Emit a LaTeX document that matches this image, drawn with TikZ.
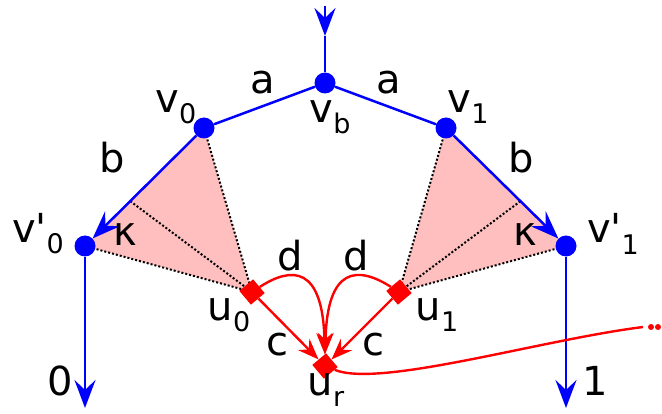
\documentclass[tikz,border=0pt]{standalone}
\usepackage{fontspec}
\setmainfont{DejaVu Sans}[Ligatures=TeXOff]
\usetikzlibrary{arrows.meta,backgrounds,calc}
\definecolor{GrafAzul}{HTML}{0000FF}
\definecolor{GrafRojo}{HTML}{FF0000}
\definecolor{GrafRosa}{HTML}{FFBFBF}
\newcommand\lo[1]{\raisebox{-0.28em}{\fontsize{27}{30}\selectfont#1}}
\newcommand\prima{\char"27}

\begin{document}
\begin{tikzpicture}[x=1pt,y=-1pt,font=\fontsize{40}{44}\selectfont,
 vert/.style={circle,fill=GrafAzul,inner sep=0pt,minimum size=21pt},
 ucaja/.style={rectangle,fill=GrafRojo,rotate=40,inner sep=0pt,minimum size=18pt},
 azul/.style={GrafAzul,line width=2.5pt},
 rojo/.style={GrafRojo,line width=2.4pt},
 puntaz/.style={-{Stealth[length=28pt,width=21pt,inset=10pt]}},
 puntar/.style={-{Stealth[length=21pt,width=16pt,inset=7pt]}},
 borde/.style={dotted,line width=2pt},
 etq/.style={inner sep=0pt}]
\useasboundingbox (0,0) rectangle (662,414);
% vertices
\node[vert] (vb) at (325,83) {};
\node[vert] (v0) at (204,128) {};
\node[vert] (v1) at (446,128) {};
\node[vert] (vp0) at (85,246) {};
\node[vert] (vp1) at (566,246) {};
\node[ucaja] (u0) at (252,292) {};
\node[ucaja] (u1) at (399,292) {};
\node[ucaja] (ur) at (325,366) {};
\coordinate (entra) at (325,6);
\coordinate (punta) at (325,36);
\coordinate (sal0) at (85,408);
\coordinate (sal1) at (566,408);
\coordinate (k0) at ($(v0)!0.62!(vp0)$);
\coordinate (k1) at ($(v1)!0.62!(vp1)$);
\coordinate (sigue) at (643,327);
% triangulos
\begin{scope}[on background layer]
\fill[GrafRosa] (v0.center) -- (vp0.center) -- (u0.center) -- cycle;
\fill[GrafRosa] (v1.center) -- (vp1.center) -- (u1.center) -- cycle;
\draw[borde] (v0.center) -- (u0.center) (vp0.center) -- (u0.center) (k0) -- (u0.center);
\draw[borde] (v1.center) -- (u1.center) (vp1.center) -- (u1.center) (k1) -- (u1.center);
\end{scope}
% aristas azules
\draw[azul,puntaz] (entra) -- (punta);
\draw[azul] (punta) -- (vb);
\draw[azul] (v0) -- (vb) -- (v1);
\draw[azul,puntaz] (v0) -- (vp0);
\draw[azul,puntaz] (v1) -- (vp1);
\draw[azul,puntaz] (vp0) -- (sal0);
\draw[azul,puntaz] (vp1) -- (sal1);
% aristas rojas
\draw[rojo,puntar] (u0) -- (ur);
\draw[rojo,puntar] (u1) -- (ur);
\draw[rojo,puntar] (u0) .. controls (292,266) and (323,266) .. (ur);
\draw[rojo,puntar] (u1) .. controls (358,266) and (327,266) .. (ur);
\draw[rojo] (ur) .. controls (380,388) and (540,340) .. (sigue);
\fill[GrafRojo] (651,327) circle (3pt) (658,327) circle (3pt);
% etiquetas
\node[etq] (la0) at (263,83) {a};
\node[etq] (la1) at (389,83) {a};
\node[etq] (lb0) at (112,158) {b};
\node[etq] (lb1) at (521,158) {b};
\node[etq] (lv0) at (176,107) {v\lo{0}};
\node[etq] (lvb) at (330,117) {v\lo{b}};
\node[etq] (lv1) at (468,107) {v\lo{1}};
\node[etq] (lvp0) at (38,234) {v\prima\lo{0}};
\node[etq] (lvp1) at (613,234) {v\prima\lo{1}};
\node[etq] (lk0) at (125,235) {κ};
\node[etq] (lk1) at (525,235) {κ};
\node[etq] (ld0) at (290,256) {d};
\node[etq] (ld1) at (356,256) {d};
\node[etq] (lc0) at (277,345) {c};
\node[etq] (lc1) at (373,345) {c};
\node[etq] (lu0) at (229,315) {u\lo{0}};
\node[etq] (lu1) at (437,315) {u\lo{1}};
\node[etq] (lur) at (326,390) {u\lo{r}};
\node[etq] (l0) at (60,381) {0};
\node[etq] (l1) at (595,381) {1};
\end{tikzpicture}
\end{document}
